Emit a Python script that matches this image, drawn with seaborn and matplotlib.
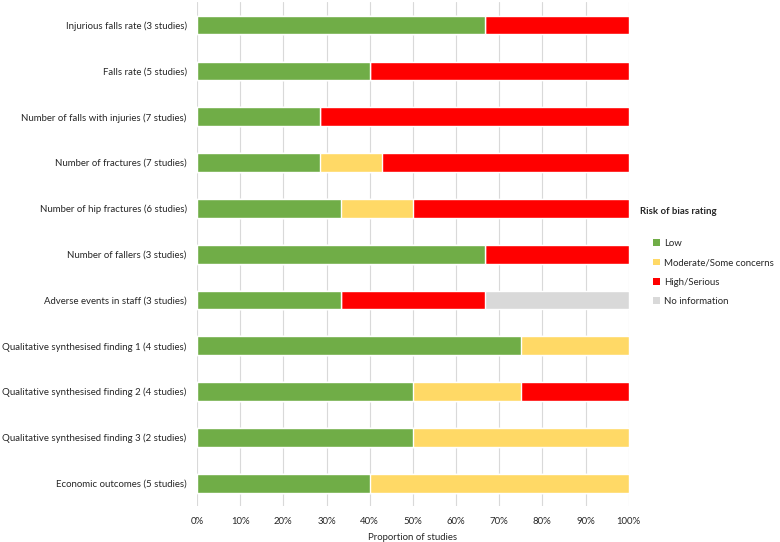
import numpy as np, pandas as pd
import matplotlib
matplotlib.use("Agg")
import matplotlib.pyplot as plt
import seaborn as sns
from matplotlib.patches import Patch

outcomes = ['Injurious falls rate (3 studies)', 'Falls rate (5 studies)',
            'Number of falls with injuries (7 studies)', 'Number of fractures (7 studies)',
            'Number of hip fractures (6 studies)', 'Number of fallers (3 studies)',
            'Adverse events in staff (3 studies)',
            'Qualitative synthesised finding 1 (4 studies)',
            'Qualitative synthesised finding 2 (4 studies)',
            'Qualitative synthesised finding 3 (2 studies)',
            'Economic outcomes (5 studies)']
# proportion of studies per rating
low = [0.667, 0.400, 0.286, 0.286, 0.333, 0.667, 0.333, 0.750, 0.500, 0.500, 0.400]
moderate = [0.000, 0.000, 0.000, 0.143, 0.167, 0.000, 0.000, 0.250, 0.250, 0.500, 0.600]
high = [0.333, 0.600, 0.714, 0.571, 0.500, 0.333, 0.333, 0.000, 0.250, 0.000, 0.000]
no_info = [0.000, 0.000, 0.000, 0.000, 0.000, 0.000, 0.334, 0.000, 0.000, 0.000, 0.000]

ratings = ['Low', 'Moderate/Some concerns', 'High/Serious', 'No information']
colors = ['#70AD47', '#FFD966', '#FF0000', '#D9D9D9']

df = pd.DataFrame({'outcome': outcomes, 'Low': low, 'Moderate/Some concerns': moderate,
                   'High/Serious': high, 'No information': no_info})
cum = df[ratings].cumsum(axis=1)
cum['outcome'] = df['outcome']

sns.set_style("white")
plt.rcParams['font.family'] = ['Lato', 'DejaVu Sans']
fs = 6.9

fig = plt.figure(figsize=(7.8, 5.42), dpi=100)
ax = fig.add_axes([0.2526, 0.066, 0.5534, 0.93])

# draw stacked bars back to front
for r, c in zip(ratings[::-1], colors[::-1]):
    sns.barplot(data=cum, x=r, y='outcome', color=c, width=0.41, ax=ax,
                orient='h', saturation=1, zorder=3)

ax.set_xlim(0, 1)
ax.set_ylim(10.5, -0.5)
ax.set_xticks(np.arange(0, 1.01, 0.1))
ax.set_xticklabels([f'{int(round(v*100))}%' for v in np.arange(0, 1.01, 0.1)], fontsize=fs)
ax.tick_params(axis='y', labelsize=fs, length=0, pad=7.5)
ax.tick_params(axis='x', length=0, pad=7.5)
ax.grid(axis='x', color='#D9D9D9', lw=0.8, zorder=0)
ax.set_axisbelow(True)
for s in ax.spines.values():
    s.set_visible(False)
ax.set_ylabel('')
ax.set_xlabel('Proportion of studies', fontsize=fs, labelpad=5)

fig.text(0.821, 0.609, 'Risk of bias rating', fontsize=fs, fontweight='bold', va='center')
handles = [Patch(facecolor=c, edgecolor='none') for c in colors]
fig.legend(handles, ratings, loc='upper left', bbox_to_anchor=(0.832, 0.566), frameon=False,
           fontsize=fs, handlelength=0.7, handleheight=0.7, handletextpad=0.5,
           labelspacing=1.08, borderaxespad=0)

fig.savefig('out.png', dpi=100)
